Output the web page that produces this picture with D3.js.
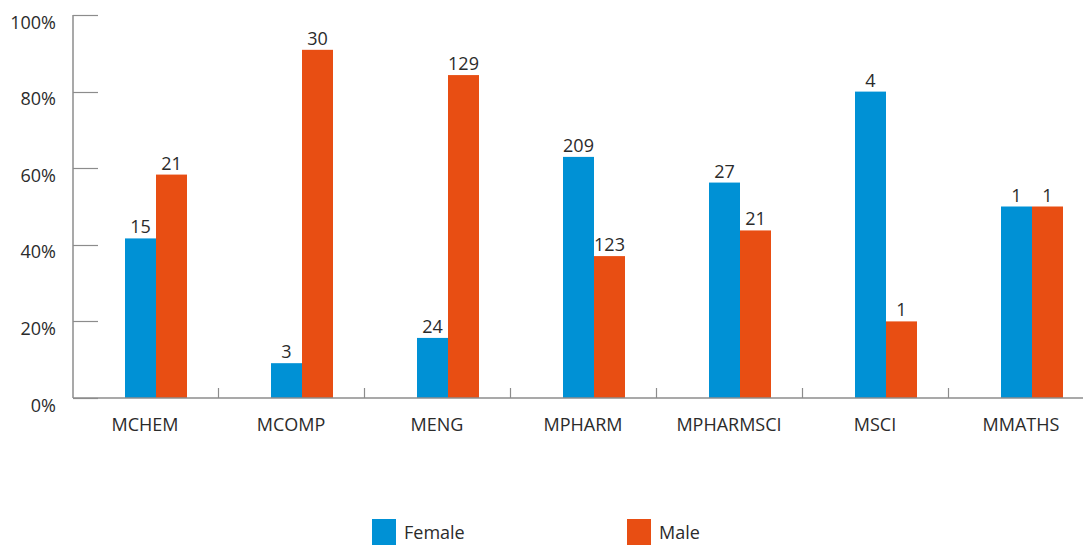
<!DOCTYPE html>
<html>
<head>
<meta charset="utf-8">
<script src="https://cdn.jsdelivr.net/npm/d3@7"></script>
<style>
  html, body { margin: 0; padding: 0; background: #fff; }
  svg text { font-family: "Open Sans", "Lato", sans-serif; fill: #2b2b2b; }
</style>
</head>
<body>
<svg id="chart" width="1083" height="545"></svg>
<script>
const categories = ["MCHEM", "MCOMP", "MENG", "MPHARM", "MPHARMSCI", "MSCI", "MMATHS"];
const series = ["Female", "Male"];
const femaleCounts = [15, 3, 24, 209, 27, 4, 1];
const maleCounts = [21, 30, 129, 123, 21, 1, 1];
const yTicks = [0, 20, 40, 60, 80, 100];
const colors = ["#0091d5", "#e84e13"];

const svg = d3.select("#chart");
const x = d3.scaleBand().domain(categories).range([72, 72 + 146 * 7]).padding(0);
const inner = d3.scaleBand().domain(series).range([53, 115]).padding(0);
const y = d3.scaleLinear().domain([0, 100]).range([398, 15]);
const fs = 18;

const data = categories.map((c, i) => {
  const total = femaleCounts[i] + maleCounts[i];
  return {
    cat: c,
    vals: [
      { s: "Female", n: femaleCounts[i], p: femaleCounts[i] / total * 100 },
      { s: "Male", n: maleCounts[i], p: maleCounts[i] / total * 100 }
    ]
  };
});

const axisColor = "#8c8c8c";
svg.append("line").attr("x1", 73).attr("x2", 73).attr("y1", y(100)).attr("y2", y(0))
  .attr("stroke", axisColor).attr("stroke-width", 1.5);
svg.selectAll(".ytick").data(yTicks).join("line")
  .attr("x1", 73).attr("x2", 98)
  .attr("y1", d => Math.round(y(d)) + 0.5).attr("y2", d => Math.round(y(d)) + 0.5)
  .attr("stroke", axisColor).attr("stroke-width", 1.2);
svg.selectAll(".ylab").data(yTicks).join("text")
  .attr("x", 56).attr("y", d => y(d) + 13.5)
  .attr("text-anchor", "end").attr("font-size", fs)
  .text(d => d + "%");

const g = svg.selectAll(".grp").data(data).join("g")
  .attr("transform", d => `translate(${x(d.cat)},0)`);
g.selectAll("rect").data(d => d.vals).join("rect")
  .attr("x", d => inner(d.s)).attr("width", inner.bandwidth())
  .attr("y", d => y(d.p)).attr("height", d => y(0) - y(d.p))
  .attr("fill", (d, i) => colors[i]);
g.selectAll(".vlab").data(d => d.vals).join("text")
  .attr("x", d => inner(d.s) + inner.bandwidth() / 2)
  .attr("y", d => y(d.p) - 5)
  .attr("text-anchor", "middle").attr("font-size", fs)
  .text(d => d.n);

svg.append("line").attr("x1", 73).attr("x2", 1083).attr("y1", 398).attr("y2", 398)
  .attr("stroke", axisColor).attr("stroke-width", 1.5);
svg.selectAll(".xtick").data(categories.slice(1)).join("line")
  .attr("x1", d => Math.round(x(d)) + 0.5).attr("x2", d => Math.round(x(d)) + 0.5)
  .attr("y1", 388).attr("y2", 398)
  .attr("stroke", axisColor).attr("stroke-width", 1.2);
svg.selectAll(".xlab").data(categories).join("text")
  .attr("x", d => x(d) + 73).attr("y", 431)
  .attr("text-anchor", "middle").attr("font-size", fs)
  .text(d => d);

const legendX = [372, 627];
series.forEach((s, i) => {
  svg.append("rect").attr("x", legendX[i]).attr("y", 519).attr("width", 24).attr("height", 26)
    .attr("fill", colors[i]);
  svg.append("text").attr("x", legendX[i] + 32).attr("y", 539)
    .attr("font-size", fs).text(s);
});
</script>
</body>
</html>
